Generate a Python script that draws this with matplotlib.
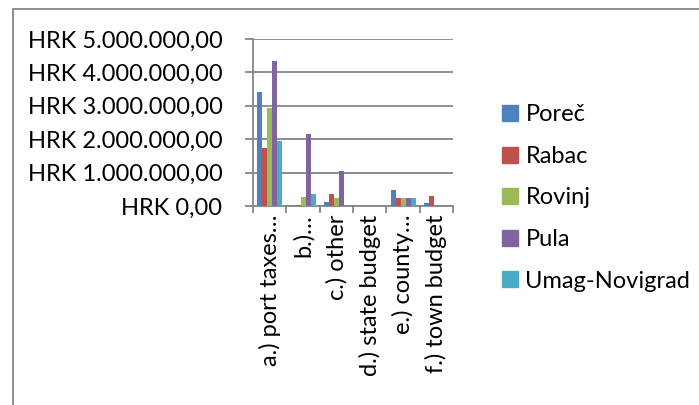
import matplotlib
matplotlib.use("Agg")
import matplotlib.pyplot as plt
import numpy as np
from matplotlib.patches import Rectangle
from matplotlib.lines import Line2D
from matplotlib.ticker import FuncFormatter

plt.rcParams['font.family'] = ['Lato', 'DejaVu Sans']

categories = ["a.) port taxes…", "b.)…", "c.) other", "d.) state budget",
              "e.) county…", "f.) town budget"]
series_names = ["Poreč", "Rabac", "Rovinj", "Pula", "Umag-Novigrad"]
porec = [3400000, 0, 130000, 0, 490000, 80000]
rabac = [1740000, 20000, 350000, 0, 240000, 290000]
rovinj = [2940000, 280000, 250000, 0, 240000, 0]
pula = [4340000, 2170000, 1040000, 0, 240000, 0]
umag = [1960000, 350000, 0, 0, 240000, 0]
y_ticks = [0, 1000000, 2000000, 3000000, 4000000, 5000000]

colors = ["#4F81BD", "#C0504D", "#9BBB59", "#8064A2", "#4BACC6"]
values = [porec, rabac, rovinj, pula, umag]

FS = 17

W, H = 699, 405
fig = plt.figure(figsize=(W / 100, H / 100), dpi=100)

# outer chart frame
fig.patches.append(Rectangle((12.5 / W, -0.1), 1.2, (H - 9.5) / H + 0.1,
                             transform=fig.transFigure, fill=False,
                             edgecolor="#868686", linewidth=1.3))

ax = fig.add_axes([253 / W, (H - 206) / H, 200 / W, 167 / H])

bw = 0.15
x = np.arange(len(categories))
for i, (name, vals) in enumerate(zip(series_names, values)):
    ax.bar(x - 0.5 + 0.125 + bw * (i + 0.5), vals, width=bw, color=colors[i],
           label=name, zorder=3)

ax.set_xlim(-0.5, len(categories) - 0.5)
ax.set_ylim(0, 5000000)
ax.set_yticks(y_ticks)


def hrk(v, pos):
    s = f"{int(v):,}".replace(",", ".")
    return f"HRK {s},00"


ax.yaxis.set_major_formatter(FuncFormatter(hrk))
ax.grid(axis="y", color="#868686", linewidth=1.3, zorder=0)
for s in ["top", "right"]:
    ax.spines[s].set_visible(False)
for s in ["left", "bottom"]:
    ax.spines[s].set_color("#868686")
    ax.spines[s].set_linewidth(1.3)
ax.tick_params(axis="y", direction="out", length=6, width=1.3, color="#868686",
               pad=16, labelsize=FS, labelcolor="black")

# category boundary ticks
ax.set_xticks(np.arange(len(categories) + 1) - 0.5, minor=True)
ax.tick_params(axis="x", which="minor", direction="out", length=5, width=1.3,
               color="#868686")
ax.set_xticks(x)
ax.set_xticklabels(categories, rotation=90, fontsize=FS, va="top", ha="center")
ax.tick_params(axis="x", which="major", length=0, pad=6)

handles = [Line2D([], [], marker="s", linestyle="", markersize=11,
                  markerfacecolor=c, markeredgecolor=c) for c in colors]
fig.legend(handles, series_names, loc="center left",
           bbox_to_anchor=(490 / W, 1 - 198 / H), frameon=False,
           fontsize=FS, handlelength=0.7, handletextpad=0.3,
           labelspacing=0.87, borderpad=0)

fig.savefig("out.png", dpi=100)
